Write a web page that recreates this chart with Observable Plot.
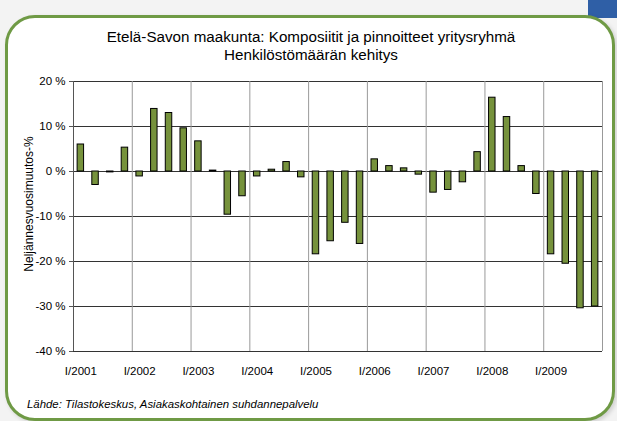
<!DOCTYPE html>
<html>
<head>
<meta charset="utf-8">
<script src="https://cdn.jsdelivr.net/npm/d3@7"></script>
<script src="https://cdn.jsdelivr.net/npm/@observablehq/plot@0.6"></script>
<style>
  html, body { margin: 0; padding: 0; background: #f3f3f3; }
  #wrap { position: relative; width: 617px; height: 421px; overflow: hidden; font-family: "Liberation Sans", Arial, sans-serif; }
  #blue { position: absolute; left: 588px; top: 0; width: 29px; height: 18px; background: #2f5fa6; }
  #frame { position: absolute; left: 5px; top: 15px; width: 604px; height: 400px; border: 3px solid #6f9a45; border-radius: 30px; background: #fff; box-shadow: 2px 2px 4px rgba(0,0,0,0.15); }
  #title { position: absolute; left: 0; width: 622px; top: 28px; text-align: center; font-size: 15.2px; line-height: 18px; color: #000; }
  #ylab { position: absolute; left: 29px; top: 204px; transform: translate(-50%, -50%) rotate(-90deg); font-size: 12px; white-space: nowrap; color: #000; }
  #caption { position: absolute; left: 27px; top: 398px; font-size: 11.4px; font-style: italic; color: #000; }
  #chart { position: absolute; left: 0; top: 0; }
</style>
</head>
<body>
<div id="wrap">
  <div id="blue"></div>
  <div id="frame"></div>
  <div id="chart"></div>
  <div id="title">Etelä-Savon maakunta: Komposiitit ja pinnoitteet yritysryhmä<br>Henkilöstömäärän kehitys</div>
  <div id="ylab">Neljännesvuosimuutos-%</div>
  <div id="caption">Lähde: Tilastokeskus, Asiakaskohtainen suhdannepalvelu</div>
</div>
<script>
const years = [2001, 2002, 2003, 2004, 2005, 2006, 2007, 2008, 2009];
const quarters = ["I", "II", "III", "IV"];
const quarterLabels = years.flatMap(y => quarters.map(q => `${q}/${y}`));
const values = [
  6.0, -3.0, -0.2, 5.3,
  -1.1, 13.9, 13.0, 9.6,
  6.7, 0.2, -9.6, -5.5,
  -1.1, 0.4, 2.1, -1.3,
  -18.4, -15.5, -11.4, -16.1,
  2.7, 1.2, 0.7, -0.7,
  -4.7, -4.1, -2.4, 4.3,
  16.4, 12.1, 1.2, -5.0,
  -18.4, -20.5, -30.4, -30.0
];
const yTicks = [20, 10, 0, -10, -20, -30, -40];

const data = quarterLabels.map((q, i) => ({q, i, v: values[i]}));
const yearStarts = quarterLabels.map((q, i) => i).filter(i => i % 4 === 0 && i > 0);
const labelPositions = quarterLabels.map((q, i) => i).filter(i => i % 4 === 0).map(i => i + 0.5);

const chart = Plot.plot({
  width: 617,
  height: 421,
  marginLeft: 73,
  marginRight: 15,
  marginTop: 81,
  marginBottom: 70,
  style: {fontFamily: "Liberation Sans, Arial, sans-serif", fontSize: "11.5px", color: "#000", background: "transparent", overflow: "visible"},
  x: {type: "linear", domain: [0, quarterLabels.length], axis: null},
  y: {domain: [-40, 20], axis: null},
  marks: [
    Plot.gridY(yTicks, {stroke: "#333", strokeOpacity: 1}),
    Plot.ruleX(yearStarts, {stroke: "#999", strokeOpacity: 1}),
    Plot.ruleX([quarterLabels.length], {stroke: "#999"}),
    Plot.rectY(data, {x1: d => d.i + 0.28, x2: d => d.i + 0.72, y: "v", fill: "#76923c", stroke: "#000", strokeWidth: 1}),
    Plot.ruleX([0], {stroke: "#555"}),
    Plot.axisY(yTicks, {tickSize: 4, tickPadding: 4, tickFormat: d => `${d} %`, stroke: "#555", fontSize: 11.5, label: null}),
    Plot.axisX(labelPositions, {tickSize: 0, tickPadding: 15, tickFormat: d => quarterLabels[Math.floor(d)], fontSize: 11.5, label: null})
  ]
});
document.getElementById("chart").appendChild(chart);
</script>
</body>
</html>
